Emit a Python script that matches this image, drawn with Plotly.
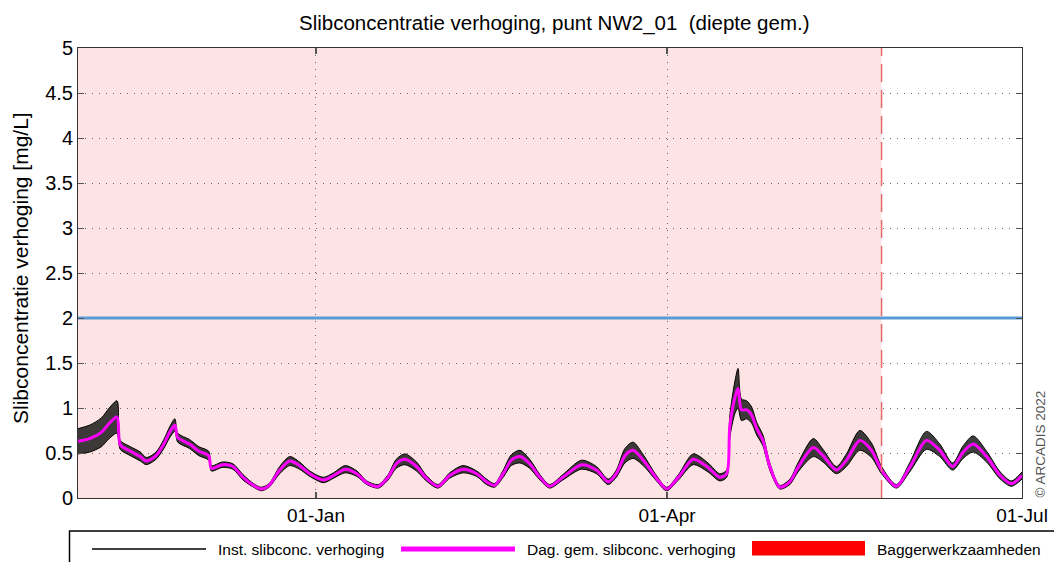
import plotly.graph_objects as go

# Sample times of the series
times = [
    "2021-11-01 00:00", "2021-11-04 00:00", "2021-11-07 00:00", "2021-11-09 00:00",
    "2021-11-11 00:00", "2021-11-11 20:00", "2021-11-14 00:00", "2021-11-17 00:00",
    "2021-11-18 12:00", "2021-11-21 00:00", "2021-11-23 00:00", "2021-11-24 12:00",
    "2021-11-25 20:00", "2021-11-26 14:00", "2021-11-29 14:00", "2021-12-02 00:00",
    "2021-12-04 12:00", "2021-12-05 05:00", "2021-12-08 00:00", "2021-12-10 17:00",
    "2021-12-13 07:00", "2021-12-16 00:00", "2021-12-18 00:00", "2021-12-20 00:00",
    "2021-12-22 17:00", "2021-12-25 07:00", "2021-12-27 19:00", "2021-12-30 10:00",
    "2022-01-02 22:00", "2022-01-05 12:00", "2022-01-08 12:00", "2022-01-11 12:00",
    "2022-01-14 00:00", "2022-01-17 00:00", "2022-01-19 12:00", "2022-01-21 14:00",
    "2022-01-23 19:00", "2022-01-26 19:00", "2022-01-29 07:00", "2022-02-01 07:00",
    "2022-02-04 07:00", "2022-02-07 17:00", "2022-02-11 05:00", "2022-02-13 17:00",
    "2022-02-15 19:00", "2022-02-18 00:00", "2022-02-20 02:00", "2022-02-22 07:00",
    "2022-02-24 19:00", "2022-02-27 10:00", "2022-03-01 22:00", "2022-03-05 07:00",
    "2022-03-10 02:00", "2022-03-13 22:00", "2022-03-16 22:00", "2022-03-19 00:00",
    "2022-03-21 05:00", "2022-03-23 07:00", "2022-03-25 22:00", "2022-03-29 07:00",
    "2022-03-31 22:00", "2022-04-03 22:00", "2022-04-07 17:00", "2022-04-11 12:00",
    "2022-04-14 12:00", "2022-04-16 07:00", "2022-04-17 02:00", "2022-04-18 10:00",
    "2022-04-19 05:00", "2022-04-20 02:00", "2022-04-21 10:00", "2022-04-22 17:00",
    "2022-04-24 00:00", "2022-04-25 14:00", "2022-04-27 10:00", "2022-04-29 22:00",
    "2022-05-02 12:00", "2022-05-04 14:00", "2022-05-08 12:00", "2022-05-11 00:00",
    "2022-05-14 10:00", "2022-05-17 00:00", "2022-05-20 10:00", "2022-05-23 10:00",
    "2022-05-26 00:00", "2022-05-29 19:00", "2022-06-02 05:00", "2022-06-06 12:00",
    "2022-06-09 22:00", "2022-06-13 05:00", "2022-06-15 22:00", "2022-06-18 12:00",
    "2022-06-21 22:00", "2022-06-25 10:00", "2022-06-28 07:00", "2022-07-01 00:00",
]

# Daily mean concentration increase [mg/L]
daily_mean = [
    0.63, 0.66, 0.73, 0.83, 0.90, 0.59, 0.53, 0.46, 0.41, 0.47, 0.60, 0.73,
    0.81, 0.67, 0.60, 0.52, 0.47, 0.33, 0.37, 0.35, 0.23, 0.14, 0.10, 0.14,
    0.31, 0.41, 0.36, 0.27, 0.20, 0.25, 0.32, 0.27, 0.17, 0.13, 0.23, 0.38,
    0.43, 0.35, 0.22, 0.13, 0.25, 0.32, 0.27, 0.18, 0.14, 0.27, 0.42, 0.46,
    0.38, 0.23, 0.13, 0.23, 0.37, 0.31, 0.18, 0.27, 0.47, 0.53, 0.42, 0.22,
    0.10, 0.23, 0.43, 0.34, 0.23, 0.27, 0.79, 1.12, 1.22, 0.98, 0.98, 0.92,
    0.77, 0.64, 0.34, 0.12, 0.18, 0.34, 0.56, 0.47, 0.31, 0.42, 0.64, 0.53,
    0.31, 0.13, 0.34, 0.64, 0.53, 0.35, 0.51, 0.60, 0.46, 0.25, 0.16, 0.25,
]

# Half-width of the instantaneous (tidal) signal around the daily mean [mg/L]
inst_spread = [
    0.14, 0.15, 0.16, 0.17, 0.18, 0.05, 0.05, 0.05, 0.04, 0.04, 0.05, 0.06,
    0.07, 0.05, 0.05, 0.05, 0.05, 0.03, 0.03, 0.03, 0.03, 0.02, 0.02, 0.02,
    0.04, 0.05, 0.04, 0.03, 0.03, 0.03, 0.04, 0.03, 0.02, 0.02, 0.03, 0.05,
    0.06, 0.05, 0.03, 0.02, 0.03, 0.04, 0.03, 0.03, 0.02, 0.04, 0.06, 0.07,
    0.05, 0.03, 0.02, 0.03, 0.05, 0.04, 0.03, 0.04, 0.08, 0.09, 0.06, 0.03,
    0.02, 0.03, 0.06, 0.05, 0.04, 0.04, 0.12, 0.18, 0.22, 0.12, 0.10, 0.09,
    0.07, 0.06, 0.04, 0.02, 0.03, 0.05, 0.10, 0.07, 0.04, 0.07, 0.11, 0.08,
    0.04, 0.02, 0.05, 0.10, 0.07, 0.04, 0.07, 0.09, 0.06, 0.04, 0.03, 0.04,
]

threshold = 2.0
period_start, period_end = "2021-11-01", "2022-07-01"
dredging_start, dredging_end = "2021-11-01", "2022-05-26"

x_tickvals = ["2022-01-01", "2022-04-01", "2022-07-01"]
x_ticktext = ["01-Jan", "01-Apr", "01-Jul"]
y_tickvals = [0, 0.5, 1, 1.5, 2, 2.5, 3, 3.5, 4, 4.5, 5]
y_ticktext = ["0", "0.5", "1", "1.5", "2", "2.5", "3", "3.5", "4", "4.5", "5"]

FONT = "Liberation Sans, Arial, sans-serif"
W, H = 1054, 562
L, R, T, B = 78, 32, 48, 64
PW, PH = W - L - R, H - T - B


def px(x):
    return (x - L) / PW


def py(y):
    return (H - B - y) / PH


upper = [m + s for m, s in zip(daily_mean, inst_spread)]
lower = [m - s for m, s in zip(daily_mean, inst_spread)]
SMOOTH = 0.8

fig = go.Figure()

# Instantaneous signal drawn as its tidal envelope
fig.add_trace(go.Scatter(x=times, y=upper, mode="lines",
                         line=dict(color="black", width=1, shape="spline", smoothing=SMOOTH),
                         hoverinfo="skip", showlegend=False))
fig.add_trace(go.Scatter(x=times, y=lower, mode="lines", fill="tonexty",
                         fillcolor="rgba(20,20,20,0.82)",
                         line=dict(color="black", width=1, shape="spline", smoothing=SMOOTH),
                         hoverinfo="skip", showlegend=False))

# Daily mean
fig.add_trace(go.Scatter(x=times, y=daily_mean, mode="lines",
                         line=dict(color="#FF00FF", width=3, shape="spline", smoothing=SMOOTH),
                         showlegend=False))

# Threshold line
fig.add_trace(go.Scatter(x=[period_start, period_end], y=[threshold, threshold], mode="lines",
                         line=dict(color="#5B9BD5", width=3), showlegend=False))

shapes = [
    # Dredging period
    dict(type="rect", xref="x", yref="y", x0=dredging_start, x1=dredging_end, y0=0, y1=5,
         fillcolor="#FDE3E4", line=dict(width=0), layer="below"),
    dict(type="line", xref="x", yref="y", x0=dredging_end, x1=dredging_end, y0=0, y1=5,
         line=dict(color="#E86A6A", width=1.5, dash="18px,8px")),
    # Legend box
    dict(type="rect", xref="paper", yref="paper", x0=px(69.5), x1=px(1070), y0=py(531), y1=py(575),
         line=dict(color="black", width=1.5), fillcolor="rgba(0,0,0,0)"),
    dict(type="line", xref="paper", yref="paper", x0=px(92), x1=px(206), y0=py(549), y1=py(549),
         line=dict(color="black", width=1.5)),
    dict(type="line", xref="paper", yref="paper", x0=px(401), x1=px(515), y0=py(549), y1=py(549),
         line=dict(color="#FF00FF", width=5)),
    dict(type="rect", xref="paper", yref="paper", x0=px(752), x1=px(865), y0=py(555.5), y1=py(541),
         line=dict(width=0), fillcolor="#FF0000"),
]

annotations = [
    dict(text="Slibconcentratie verhoging, punt NW2_01  (diepte gem.)", xref="paper", yref="paper",
         x=px(554), y=py(23), showarrow=False, xanchor="center", yanchor="middle",
         font=dict(size=20.5, color="black", family=FONT)),
    dict(text="Slibconcentratie verhoging [mg/L]", xref="paper", yref="paper",
         x=px(20), y=py(268), showarrow=False, textangle=-90, xanchor="center", yanchor="middle",
         font=dict(size=21, color="black", family=FONT)),
    dict(text="© ARCADIS 2022", xref="paper", yref="paper",
         x=px(1040), y=py(500), showarrow=False, textangle=-90, xanchor="center", yanchor="bottom",
         font=dict(size=13.5, color="#555555", family=FONT)),
    dict(text="Inst. slibconc. verhoging", xref="paper", yref="paper",
         x=px(216), y=py(549), showarrow=False, xanchor="left", yanchor="middle",
         font=dict(size=15.5, color="black", family=FONT)),
    dict(text="Dag. gem. slibconc. verhoging", xref="paper", yref="paper",
         x=px(525), y=py(549), showarrow=False, xanchor="left", yanchor="middle",
         font=dict(size=15.5, color="black", family=FONT)),
    dict(text="Baggerwerkzaamheden", xref="paper", yref="paper",
         x=px(875), y=py(549), showarrow=False, xanchor="left", yanchor="middle",
         font=dict(size=15.5, color="black", family=FONT)),
]

fig.update_layout(
    width=W, height=H,
    margin=dict(l=L, r=R, t=T, b=B, pad=0, autoexpand=False),
    paper_bgcolor="white", plot_bgcolor="white",
    font=dict(family=FONT, color="black"),
    shapes=shapes, annotations=annotations,
    showlegend=False,
    xaxis=dict(range=[period_start, period_end], tickvals=x_tickvals, ticktext=x_ticktext,
               automargin=False,
               showgrid=True, gridcolor="#666666", griddash="1px,6px", gridwidth=1,
               showline=True, linecolor="#333333", linewidth=1, mirror="ticks",
               ticks="inside", ticklen=6, tickcolor="#555555", tickwidth=2,
               tickfont=dict(size=19, color="black"), zeroline=False, fixedrange=True),
    yaxis=dict(range=[0, 5], tickvals=y_tickvals, ticktext=y_ticktext,
               automargin=False,
               showgrid=True, gridcolor="#666666", griddash="1px,6px", gridwidth=1,
               showline=True, linecolor="#333333", linewidth=1, mirror="ticks",
               ticks="inside", ticklen=6, tickcolor="#555555", tickwidth=1,
               tickfont=dict(size=20, color="black"), zeroline=False, fixedrange=True),
)

fig.write_html("out.html")
